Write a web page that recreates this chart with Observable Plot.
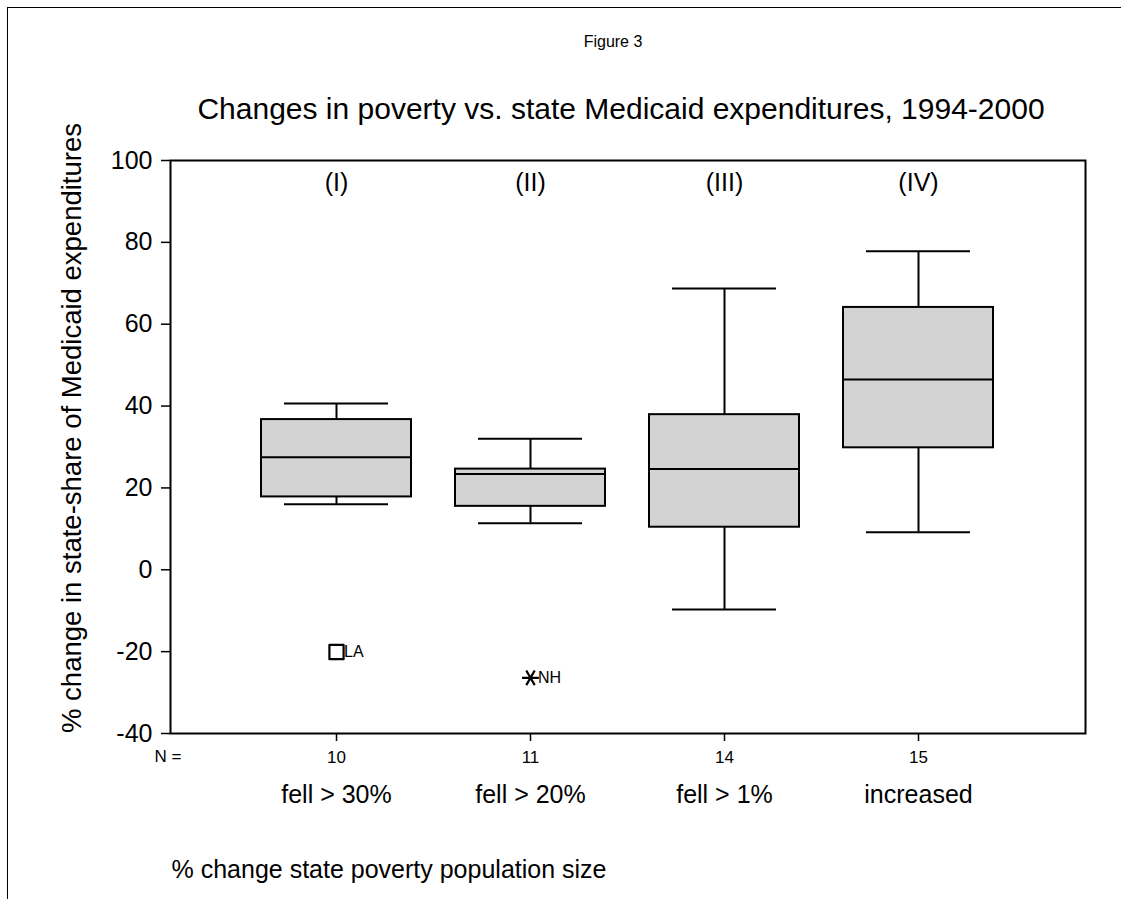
<!DOCTYPE html>
<html>
<head>
<meta charset="utf-8">
<script src="https://cdn.jsdelivr.net/npm/d3@7"></script>
<script src="https://cdn.jsdelivr.net/npm/@observablehq/plot@0.6"></script>
<style>
  html, body { margin: 0; padding: 0; background: #fff; }
  body { width: 1121px; height: 899px; position: relative; overflow: hidden; font-family: Arial, "Liberation Sans", sans-serif; }
  #border { position: absolute; left: 7px; top: 7px; width: 1200px; height: 1000px; border-top: 1.5px solid #000; border-left: 1.5px solid #000; }
  #chart { position: absolute; left: 0; top: 0; }
</style>
</head>
<body>
<div id="border"></div>
<div id="chart"></div>
<script>
// ---- data ----
const categories = ["fell > 30%", "fell > 20%", "fell > 1%", "increased"];
const groupLabels = ["(I)", "(II)", "(III)", "(IV)"];
const nCounts = [10, 11, 14, 15];
const whiskerLow = [16.0, 11.4, -9.7, 9.2];
const q1 = [17.8, 15.5, 10.4, 29.8];
const median = [27.5, 23.4, 24.6, 46.5];
const q3 = [36.7, 24.6, 37.9, 64.1];
const whiskerHigh = [40.6, 32.0, 68.7, 77.8];
const yTicks = [-40, -20, 0, 20, 40, 60, 80, 100];
const outlierCategory = ["fell > 30%", "fell > 20%"];
const outlierValue = [-20.1, -26.4];
const outlierState = ["LA", "NH"];
const outlierSymbol = ["square", "asterisk"];

const boxes = categories.map((c, i) => ({
  cat: c, label: groupLabels[i], n: nCounts[i],
  lo: whiskerLow[i], q1: q1[i], med: median[i], q3: q3[i], hi: whiskerHigh[i]
}));
const outliers = outlierCategory.map((c, i) => ({cat: c, v: outlierValue[i], state: outlierState[i], sym: outlierSymbol[i]}));
const nByCat = new Map(boxes.map(d => [d.cat, d.n]));

const font = "Arial, 'Liberation Sans', sans-serif";
const T = {fill: "#000", lineAnchor: "middle"};

const chart = Plot.plot({
  width: 1121,
  height: 899,
  marginLeft: 170,
  marginRight: 36,
  marginTop: 160,
  marginBottom: 166,
  style: {fontFamily: font, color: "#000", background: "transparent", overflow: "visible"},
  x: {type: "band", domain: categories, paddingInner: 0.225, paddingOuter: 0.465},
  y: {domain: [-40, 100]},
  marks: [
    // whiskers
    Plot.ruleX(boxes, {x: "cat", y1: "q3", y2: "hi", stroke: "#000", strokeWidth: 2}),
    Plot.ruleX(boxes, {x: "cat", y1: "lo", y2: "q1", stroke: "#000", strokeWidth: 2}),
    Plot.tickY(boxes, {x: "cat", y: "hi", insetLeft: 23, insetRight: 23, stroke: "#000", strokeWidth: 2}),
    Plot.tickY(boxes, {x: "cat", y: "lo", insetLeft: 23, insetRight: 23, stroke: "#000", strokeWidth: 2}),
    // boxes
    Plot.barY(boxes, {x: "cat", y1: "q1", y2: "q3", fill: "#d3d3d3", stroke: "#000", strokeWidth: 2}),
    Plot.tickY(boxes, {x: "cat", y: "med", stroke: "#000", strokeWidth: 2}),
    // outliers
    Plot.dot(outliers, {x: "cat", y: "v", symbol: "sym", r: 8, stroke: "#000", strokeWidth: 2.2, strokeLinejoin: "round", fill: "none", rotate: 90}),
    Plot.text(outliers, {...T, x: "cat", y: "v", text: "state", dx: 7.5, textAnchor: "start", fontSize: 16}),
    // group labels at top
    Plot.text(boxes, {...T, x: "cat", text: "label", frameAnchor: "top", dy: 22, fontSize: 25}),
    // frame
    Plot.frame({stroke: "#000", strokeWidth: 2}),
    // axes
    Plot.axisY({ticks: yTicks, tickSize: 9, tickPadding: 9, fontSize: 25, strokeWidth: 1.5, label: null, tickFormat: d => String(d)}),
    Plot.axisX({tickSize: 8, tickPadding: 9, fontSize: 17, strokeWidth: 1.5, label: null, tickFormat: d => nByCat.get(d)}),
    Plot.text(["N ="], {...T, frameAnchor: "bottom-left", textAnchor: "middle", dx: -2.5, dy: 23, fontSize: 17}),
    // category labels
    Plot.text(boxes, {...T, x: "cat", text: "cat", frameAnchor: "bottom", dy: 61, fontSize: 25}),
    // titles & axis labels
    Plot.text(["Figure 3"], {...T, frameAnchor: "top", dx: -15, dy: -119, fontSize: 16}),
    Plot.text(["Changes in poverty vs. state Medicaid expenditures, 1994-2000"], {...T, frameAnchor: "top", dx: -7, dy: -51, fontSize: 30}),
    Plot.text(["% change in state-share of Medicaid expenditures"], {...T, frameAnchor: "left", textAnchor: "middle", dx: -98, dy: -19, rotate: -90, fontSize: 27.5}),
    Plot.text(["% change state poverty population size"], {...T, frameAnchor: "bottom-left", dx: 1, dy: 136, textAnchor: "start", fontSize: 25})
  ]
});
document.getElementById("chart").appendChild(chart);
</script>
</body>
</html>
